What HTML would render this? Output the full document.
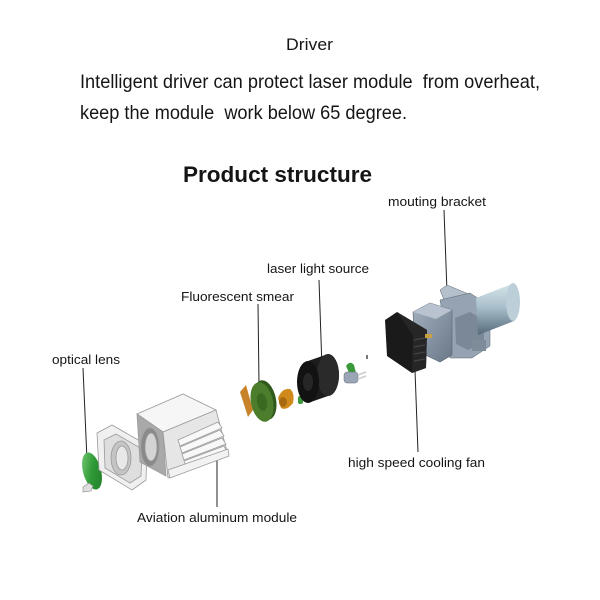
<!DOCTYPE html>
<html><head><meta charset="utf-8"><style>
html,body{margin:0;padding:0;background:#fff;}
svg{display:block;}
text{font-family:"Liberation Sans",Arial,sans-serif;fill:#151515;}
</style></head><body>
<svg width="600" height="600" viewBox="0 0 600 600" xmlns="http://www.w3.org/2000/svg">
<defs>
<linearGradient id="gr" x1="0" y1="0" x2="1" y2="1"><stop offset="0" stop-color="#7fd07f"/><stop offset="0.5" stop-color="#2f9a36"/><stop offset="1" stop-color="#1f7a25"/></linearGradient>
<linearGradient id="mot" x1="0" y1="0" x2="0" y2="1"><stop offset="0" stop-color="#d6e4ea"/><stop offset="0.45" stop-color="#a9c0cb"/><stop offset="1" stop-color="#55697a"/></linearGradient>
<linearGradient id="brk" x1="0" y1="0" x2="1" y2="1"><stop offset="0" stop-color="#a4b0be"/><stop offset="1" stop-color="#6a7888"/></linearGradient>
</defs>

<text x="286" y="50" font-size="17" textLength="47" lengthAdjust="spacingAndGlyphs">Driver</text>
<text x="80" y="88" font-size="19.5" textLength="460" lengthAdjust="spacingAndGlyphs" xml:space="preserve">Intelligent driver can protect laser module  from overheat,</text>
<text x="80" y="119" font-size="19.5" textLength="327" lengthAdjust="spacingAndGlyphs" xml:space="preserve">keep the module  work below 65 degree.</text>
<text x="183" y="182" font-size="22.5" font-weight="bold" textLength="189" lengthAdjust="spacingAndGlyphs">Product structure</text>

<text x="388" y="206" font-size="13" textLength="98" lengthAdjust="spacingAndGlyphs">mouting bracket</text>
<text x="267" y="273" font-size="13" textLength="102" lengthAdjust="spacingAndGlyphs">laser light source</text>
<text x="181" y="301" font-size="13" textLength="113" lengthAdjust="spacingAndGlyphs">Fluorescent smear</text>
<text x="52" y="364" font-size="13" textLength="68" lengthAdjust="spacingAndGlyphs">optical lens</text>
<text x="348" y="467" font-size="13" textLength="137" lengthAdjust="spacingAndGlyphs">high speed cooling fan</text>
<text x="137" y="522" font-size="13" textLength="160" lengthAdjust="spacingAndGlyphs">Aviation aluminum module</text>

<!-- leader lines -->
<g stroke="#222" stroke-width="1" fill="none">
<line x1="83" y1="368" x2="87" y2="460"/>
<line x1="217" y1="440" x2="217" y2="507"/>
<line x1="258" y1="304" x2="259" y2="384"/>
<line x1="319" y1="280" x2="322" y2="368"/>
<line x1="444" y1="210" x2="447" y2="292"/>
<line x1="415" y1="370" x2="418" y2="452"/>
</g>

<!-- optical lens -->
<ellipse cx="92" cy="471" rx="9" ry="19" transform="rotate(-15 92 471)" fill="url(#gr)"/>
<path d="M83 487 l6 -4 l4 3 l-2 5 l-8 1 z" fill="#ddd" stroke="#888" stroke-width="0.6"/>

<!-- ring frame -->
<g stroke="#9a9a9a" stroke-width="0.8">
<polygon points="97,433 112,425 147,445 146,480 132,490 99,470" fill="#f0f0f0"/>
<polygon points="104,440 116,434 142,449 141,476 130,483 105,468" fill="#dedede"/>
<ellipse cx="121" cy="458" rx="10" ry="17" fill="#c4c4c4"/>
<ellipse cx="122" cy="458" rx="6" ry="12" fill="#e8e8e8"/>
</g>

<!-- aluminum module -->
<g stroke="#9a9a9a" stroke-width="0.8">
<polygon points="137,414 183,394 216,410 163,432" fill="#f6f6f6"/>
<polygon points="137,414 163,432 166,476 140,462" fill="#a9a9a9"/>
<ellipse cx="150" cy="447" rx="9" ry="19" fill="#8a8a8a"/>
<ellipse cx="151" cy="447" rx="6" ry="14" fill="#d4d4d4"/>
<polygon points="163,432 216,410 228,455 168,478" fill="#e6e6e6"/>
<polygon points="178,440 218,422 222,428 180,446" fill="#f8f8f8"/>
<polygon points="180,447 220,430 224,436 182,453" fill="#f8f8f8"/>
<polygon points="182,454 222,438 226,444 184,460" fill="#f8f8f8"/>
<polygon points="184,461 224,446 227,452 186,467" fill="#f8f8f8"/>
<polygon points="168,470 228,449 229,456 170,478" fill="#f2f2f2"/>
</g>

<!-- orange plate -->
<polygon points="240,392 246,385 253,410 248,417" fill="#c8822a"/>
<!-- green wheel -->
<ellipse cx="265" cy="400" rx="11" ry="20" transform="rotate(-12 265 400)" fill="#2f5a1c"/>
<ellipse cx="262" cy="402" rx="11" ry="20" transform="rotate(-12 262 402)" fill="#4b7d2c"/>
<ellipse cx="262" cy="402" rx="5" ry="9" transform="rotate(-12 262 402)" fill="#3a6a22"/>
<!-- orange small part -->
<path d="M278 398 q4 -10 12 -9 q5 4 3 14 q-6 8 -12 5 z" fill="#d08a1c"/>
<ellipse cx="283" cy="402" rx="4" ry="5" fill="#a86a10"/>
<!-- small green -->
<rect x="298" y="396" width="5" height="8" rx="2" fill="#3d9a3d"/>

<!-- black cylinder -->
<path d="M308 361 L328 354 A11 21 0 0 1 328 396 L308 403 Z" fill="#1c1c1c"/>
<ellipse cx="328" cy="375" rx="11" ry="21" fill="#2a2a2a"/>
<ellipse cx="308" cy="382" rx="11" ry="21" fill="#121212"/>
<ellipse cx="308" cy="382" rx="5" ry="9" fill="#262626"/>

<!-- green clip and diode -->
<path d="M346 366 q4 -6 8 -1 l2 8 l-6 2 z" fill="#3a9a3a"/>
<rect x="344" y="372" width="14" height="11" rx="3" fill="#9aa6b6" stroke="#667" stroke-width="0.5"/>
<line x1="358" y1="375" x2="366" y2="372" stroke="#ccc" stroke-width="1.5"/>
<line x1="358" y1="379" x2="366" y2="376" stroke="#ccc" stroke-width="1.5"/>
<rect x="366" y="355" width="2" height="4" fill="#777"/>

<!-- bracket (behind fan) -->
<polygon points="440,290 447,285 478,298 472,306 444,300" fill="#b4c0cc" stroke="#5a6570" stroke-width="0.5"/>
<polygon points="440,300 470,293 490,306 490,346 472,358 450,358" fill="#96a3b2" stroke="#5a6570" stroke-width="0.5"/>
<polygon points="413,312 430,303 452,310 452,355 440,362 415,350" fill="url(#brk)" stroke="#5a6570" stroke-width="0.6"/>
<polygon points="413,312 430,303 452,310 436,319" fill="#b8c3cf"/>
<polygon points="455,318 470,312 484,320 484,342 468,350 456,344" fill="#7b8898"/>
<rect x="472" y="340" width="14" height="11" fill="#7e8c9a"/>
<!-- motor cylinder -->
<path d="M476 298 L512 284 A8 19 0 0 1 514 321 L478 335 Z" fill="url(#mot)"/>
<ellipse cx="513" cy="302" rx="7" ry="19" fill="#bccfd8"/>

<!-- fan -->
<polygon points="385,320 397,312 427,330 426,368 412,373 387,356" fill="#1a1a1a"/>
<polygon points="397,312 427,330 426,368 412,373 413,335" fill="#262626"/>
<g stroke="#444" stroke-width="1.2">
<line x1="414" y1="340" x2="425" y2="338"/>
<line x1="414" y1="347" x2="425" y2="345"/>
<line x1="414" y1="354" x2="425" y2="352"/>
<line x1="414" y1="361" x2="425" y2="359"/>
</g>
<rect x="425" y="334" width="7" height="4" fill="#c8a040"/>
</svg>
</body></html>
